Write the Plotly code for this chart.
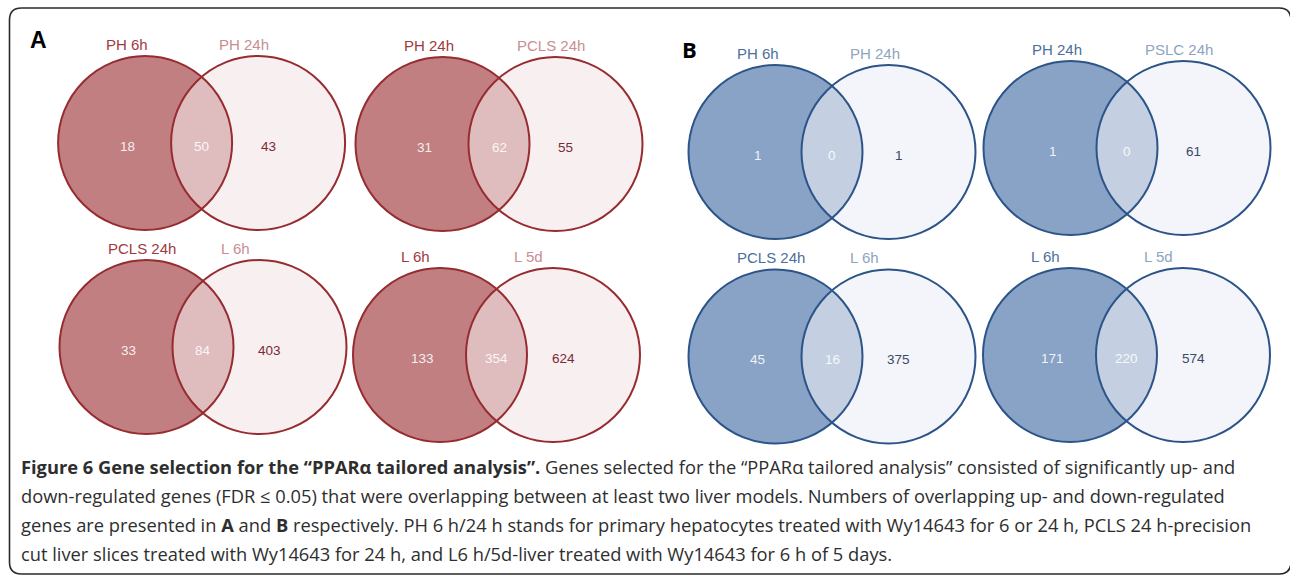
import numpy as np
import plotly.graph_objects as go

# ---------------- data ----------------
panel_of = ["A", "A", "A", "A", "B", "B", "B", "B"]
left_labels = ["PH 6h", "PH 24h", "PCLS 24h", "L 6h", "PH 6h", "PH 24h", "PCLS 24h", "L 6h"]
right_labels = ["PH 24h", "PCLS 24h", "L 6h", "L 5d", "PH 24h", "PSLC 24h", "L 6h", "L 5d"]
left_only = [18, 31, 33, 133, 1, 1, 45, 171]
overlap = [50, 62, 84, 354, 0, 0, 16, 220]
right_only = [43, 55, 403, 624, 1, 61, 375, 574]

caption_lines = [
    "<b>Figure 6 Gene selection for the \u201cPPAR\u03b1 tailored analysis\u201d.</b> Genes selected for the \u201cPPAR\u03b1 tailored analysis\u201d consisted of significantly up- and",
    "down-regulated genes (FDR \u2264 0.05) that were overlapping between at least two liver models. Numbers of overlapping up- and down-regulated",
    "genes are presented in <b>A</b> and <b>B</b> respectively. PH 6 h/24 h stands for primary hepatocytes treated with Wy14643 for 6 or 24 h, PCLS 24 h-precision",
    "cut liver slices treated with Wy14643 for 24 h, and L6 h/5d-liver treated with Wy14643 for 6 h of 5 days.",
]

# ---------------- layout (pixel space) ----------------
W, H = 1290, 576
R = 87.0
SEP = 113.0
centers = [(201.6, 143), (499, 144), (203, 347), (496.5, 355),
           (832, 152), (1127, 148), (832, 356.5), (1126.5, 355)]

themes = {
    "A": dict(stroke="#962c30", lfill="#c17f82", lens="#dfbdbf", rfill="#f8eff0",
              llab="#9e3a3f", rlab="#c98e92", rnum="#7c2836", inum="rgba(255,255,255,0.88)"),
    "B": dict(stroke="#2c5489", lfill="#88a3c5", lens="#c4d0e1", rfill="#f3f5fa",
              llab="#4b6f9c", rlab="#8ea4c0", rnum="#3b4a62", inum="rgba(255,255,255,0.88)"),
}

fig = go.Figure()
shapes = []
annotations = []

t = np.linspace(0, 2 * np.pi, 240)
theta = np.arccos((SEP / 2) / R)

for i, (mx, my) in enumerate(centers):
    th = themes[panel_of[i]]
    cx1, cx2 = mx - SEP / 2, mx + SEP / 2
    fig.add_trace(go.Scatter(x=cx1 + R * np.cos(t), y=my + R * np.sin(t), mode="lines",
                             fill="toself", fillcolor=th["lfill"], line=dict(width=0),
                             hoverinfo="skip", showlegend=False))
    fig.add_trace(go.Scatter(x=cx2 + R * np.cos(t), y=my + R * np.sin(t), mode="lines",
                             fill="toself", fillcolor=th["rfill"], line=dict(width=0),
                             hoverinfo="skip", showlegend=False))
    a1 = np.linspace(-theta, theta, 80)
    a2 = np.linspace(np.pi - theta, np.pi + theta, 80)
    lx = np.concatenate([cx1 + R * np.cos(a1), cx2 + R * np.cos(a2)])
    ly = np.concatenate([my + R * np.sin(a1), my + R * np.sin(a2)])
    fig.add_trace(go.Scatter(x=lx, y=ly, mode="lines", fill="toself", fillcolor=th["lens"],
                             line=dict(width=0), hoverinfo="skip", showlegend=False))
    for cx in (cx1, cx2):
        shapes.append(dict(type="circle", xref="x", yref="y", x0=cx - R, x1=cx + R,
                           y0=my - R, y1=my + R, line=dict(color=th["stroke"], width=2),
                           fillcolor="rgba(0,0,0,0)", layer="above"))
    annotations.append(dict(x=cx1 - 41, y=my - 99, text=left_labels[i], xanchor="left",
                            yanchor="middle", showarrow=False,
                            font=dict(family="Liberation Sans, Arial", size=15, color=th["llab"])))
    annotations.append(dict(x=cx2 - 41, y=my - 99, text=right_labels[i], xanchor="left",
                            yanchor="middle", showarrow=False,
                            font=dict(family="Liberation Sans, Arial", size=15, color=th["rlab"])))
    annotations.append(dict(x=cx1 - 18, y=my + 3, text=str(left_only[i]), showarrow=False,
                            xanchor="center", yanchor="middle",
                            font=dict(family="Liberation Sans, Arial", size=13.5, color=th["inum"])))
    annotations.append(dict(x=mx, y=my + 3, text=str(overlap[i]), showarrow=False,
                            xanchor="center", yanchor="middle",
                            font=dict(family="Liberation Sans, Arial", size=13.5, color=th["inum"])))
    annotations.append(dict(x=cx2 + 10, y=my + 3, text=str(right_only[i]), showarrow=False,
                            xanchor="center", yanchor="middle",
                            font=dict(family="Liberation Sans, Arial", size=13.5, color=th["rnum"])))

annotations.append(dict(x=38, y=40, text="<b>A</b>", showarrow=False, xanchor="center", yanchor="middle",
                        font=dict(family="Liberation Sans, Arial", size=23, color="#000000")))
annotations.append(dict(x=689, y=49, text="<b>B</b>", showarrow=False, xanchor="center", yanchor="middle",
                        font=dict(family="Open Sans", size=22, color="#000000")))

cap_y = [466, 495, 524, 553]
for ln, yy in zip(caption_lines, cap_y):
    annotations.append(dict(x=19, y=yy, text=ln, showarrow=False, xanchor="left", yanchor="middle",
                            font=dict(family="Open Sans", size=18.3, color="#2e2e2e")))

x0, y0, x1, y1, r = 9.5, 8, 1291, 574, 12
path = (f"M {x0+r},{y0} L {x1-r},{y0} Q {x1},{y0} {x1},{y0+r} L {x1},{y1-r} Q {x1},{y1} {x1-r},{y1} "
        f"L {x0+r},{y1} Q {x0},{y1} {x0},{y1-r} L {x0},{y0+r} Q {x0},{y0} {x0+r},{y0} Z")
shapes.append(dict(type="path", xref="x", yref="y", path=path,
                   line=dict(color="#2a2a2a", width=1.6), layer="above"))

fig.update_layout(
    width=W, height=H, margin=dict(l=0, r=0, t=0, b=0), autosize=False,
    paper_bgcolor="white", plot_bgcolor="white",
    xaxis=dict(range=[0, W], visible=False, fixedrange=True),
    yaxis=dict(range=[H, 0], visible=False, fixedrange=True),
    shapes=shapes, annotations=annotations, showlegend=False,
)

fig.write_html("out.html", config={"displayModeBar": False},
               post_script="document.body.style.margin='0';document.body.style.overflow='hidden';")
